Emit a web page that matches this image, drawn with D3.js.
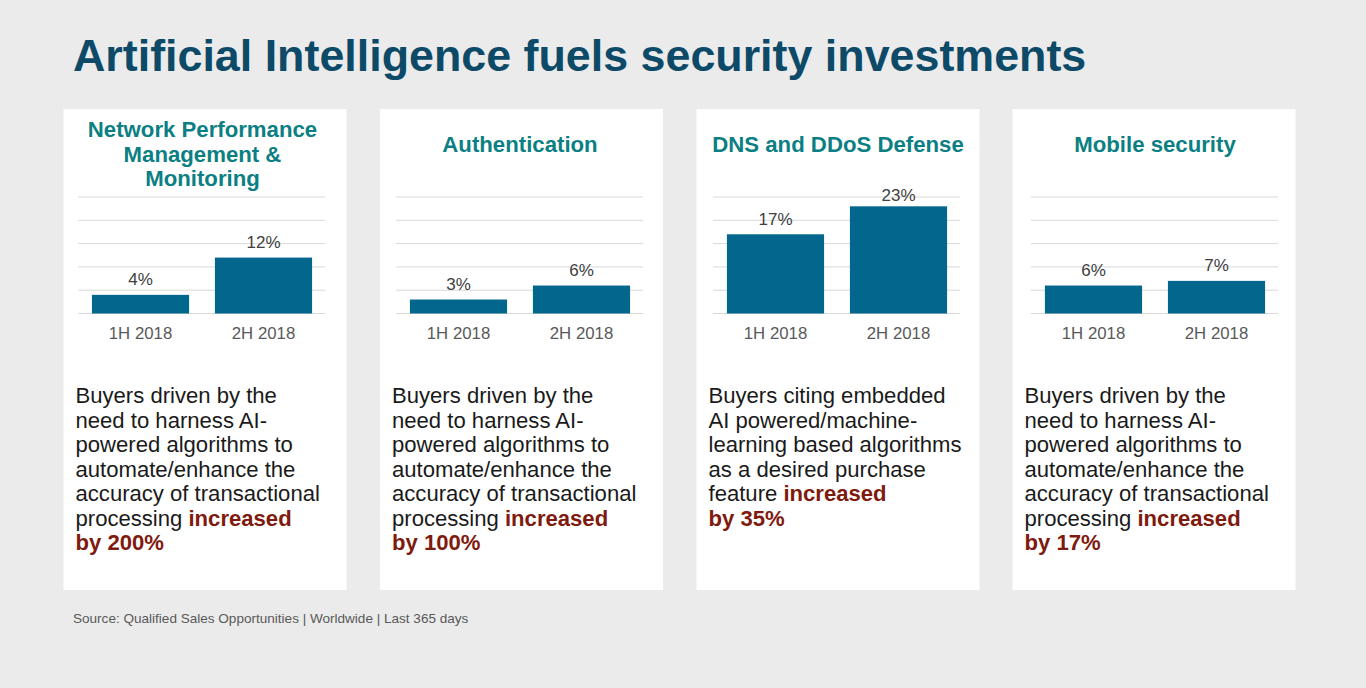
<!DOCTYPE html>
<html lang="en">

<head>
    <meta charset="UTF-8">
    <title>Artificial Intelligence fuels security investments</title>
    <script src="https://d3js.org/d3.v7.min.js"></script>
    <style>
        body {
            margin: 0;
            overflow: hidden;
            background: #ebebeb;
        }

        text {
            font-family: "Liberation Sans", Arial, sans-serif;
        }
    </style>
</head>

<body>
    <script>
        var periods = ["1H 2018", "2H 2018"];
        var titles = [
            ["Network Performance", "Management &", "Monitoring"],
            ["Authentication"],
            ["DNS and DDoS Defense"],
            ["Mobile security"]
        ];
        var values = [[4, 12], [3, 6], [17, 23], [6, 7]];
        var gridTicks = [0, 5, 10, 15, 20, 25];
        var bodyLines = [
            [["Buyers driven by the"], ["need to harness AI-"], ["powered algorithms to"], ["automate/enhance the"], ["accuracy of transactional"], ["processing ", "increased"], ["", "by 200%"]],
            [["Buyers driven by the"], ["need to harness AI-"], ["powered algorithms to"], ["automate/enhance the"], ["accuracy of transactional"], ["processing ", "increased"], ["", "by 100%"]],
            [["Buyers citing embedded"], ["AI powered/machine-"], ["learning based algorithms"], ["as a desired purchase"], ["feature ", "increased"], ["", "by 35%"]],
            [["Buyers driven by the"], ["need to harness AI-"], ["powered algorithms to"], ["automate/enhance the"], ["accuracy of transactional"], ["processing ", "increased"], ["", "by 17%"]]
        ];

        var width = 1366, height = 688;
        var panelLeft = [63.5, 380, 696.5, 1012.5];
        var chartLeft = [78, 396, 713, 1031]; // the plots are not evenly placed inside the cards
        var titleCentre = [202.5, 520, 838, 1155];
        var panelW = 283, panelTop = 109, panelH = 481;
        var chartW = 247;

        var svg = d3.select("body").append("svg")
            .attr("width", width)
            .attr("height", height)
            .style("display", "block");

        svg.append("text")
            .attr("x", 73)
            .attr("y", 71)
            .attr("font-size", 44.8)
            .attr("font-weight", "bold")
            .attr("fill", "#0d4a68")
            .text("Artificial Intelligence fuels security investments");

        // y scale is shared so all four panels compare directly
        var y = d3.scaleLinear().domain([0, 25]).range([313.5, 197]);

        panelLeft.forEach(function(left, i) {
            svg.append("rect")
                .attr("x", left)
                .attr("y", panelTop)
                .attr("width", panelW)
                .attr("height", panelH)
                .attr("fill", "#fff");

            // Title, centred vertically around the single line position
            var titleY = titles[i].length > 1 ? 137 : 151.5;
            svg.append("g").selectAll("text")
                .data(titles[i])
                .enter().append("text")
                .attr("x", titleCentre[i])
                .attr("y", function(d, k) { return titleY + k * 24.6; })
                .attr("text-anchor", "middle")
                .attr("font-size", 22.2)
                .attr("font-weight", "bold")
                .attr("fill", "#0b7f83")
                .text(function(d) { return d; });

            var plot = svg.append("g").attr("transform", "translate(" + chartLeft[i] + ",0)");

            // Grid lines
            plot.append("g").selectAll("line")
                .data(gridTicks)
                .enter().append("line")
                .attr("x1", 0)
                .attr("x2", chartW)
                .attr("y1", function(d) { return y(d); })
                .attr("y2", function(d) { return y(d); })
                .attr("stroke", "#d9d9d9")
                .attr("stroke-width", 1);

            var x = d3.scaleBand().domain(periods).range([1, chartW]).paddingInner(0.21).paddingOuter(0.105);

            plot.append("g").selectAll("rect")
                .data(values[i])
                .enter().append("rect")
                .attr("x", function(d, k) { return x(periods[k]); })
                .attr("y", function(d) { return y(d); })
                .attr("width", x.bandwidth())
                .attr("height", function(d) { return y(0) - y(d); })
                .attr("fill", "#03668c");

            // Value labels stop at the top of the plot, so the tallest bar sits closer
            plot.append("g").selectAll("text")
                .data(values[i])
                .enter().append("text")
                .attr("x", function(d, k) { return x(periods[k]) + x.bandwidth() / 2; })
                .attr("y", function(d) { return Math.max(y(d) - 9.5, 200.5); })
                .attr("text-anchor", "middle")
                .attr("font-size", 17)
                .attr("fill", "#404040")
                .text(function(d) { return d + "%"; });

            plot.append("g").selectAll("text")
                .data(periods)
                .enter().append("text")
                .attr("x", function(d) { return x(d) + x.bandwidth() / 2; })
                .attr("y", 339)
                .attr("text-anchor", "middle")
                .attr("font-size", 16.8)
                .attr("fill", "#595959")
                .text(function(d) { return d; });

            // Body copy, second part of a line is the highlighted bit
            var body = svg.append("g").selectAll("text")
                .data(bodyLines[i])
                .enter().append("text")
                .attr("x", left + 12)
                .attr("y", function(d, k) { return 403 + k * 24.55; })
                .attr("font-size", 22.1)
                .attr("fill", "#1a1a1a");

            body.append("tspan").text(function(d) { return d[0]; });
            body.append("tspan")
                .attr("font-weight", "bold")
                .attr("fill", "#7f1a0e")
                .text(function(d) { return d[1] || ""; });
        });

        svg.append("text")
            .attr("x", 73)
            .attr("y", 623)
            .attr("font-size", 13.55)
            .attr("fill", "#595959")
            .text("Source: Qualified Sales Opportunities | Worldwide | Last 365 days");
    </script>
</body>

</html>
